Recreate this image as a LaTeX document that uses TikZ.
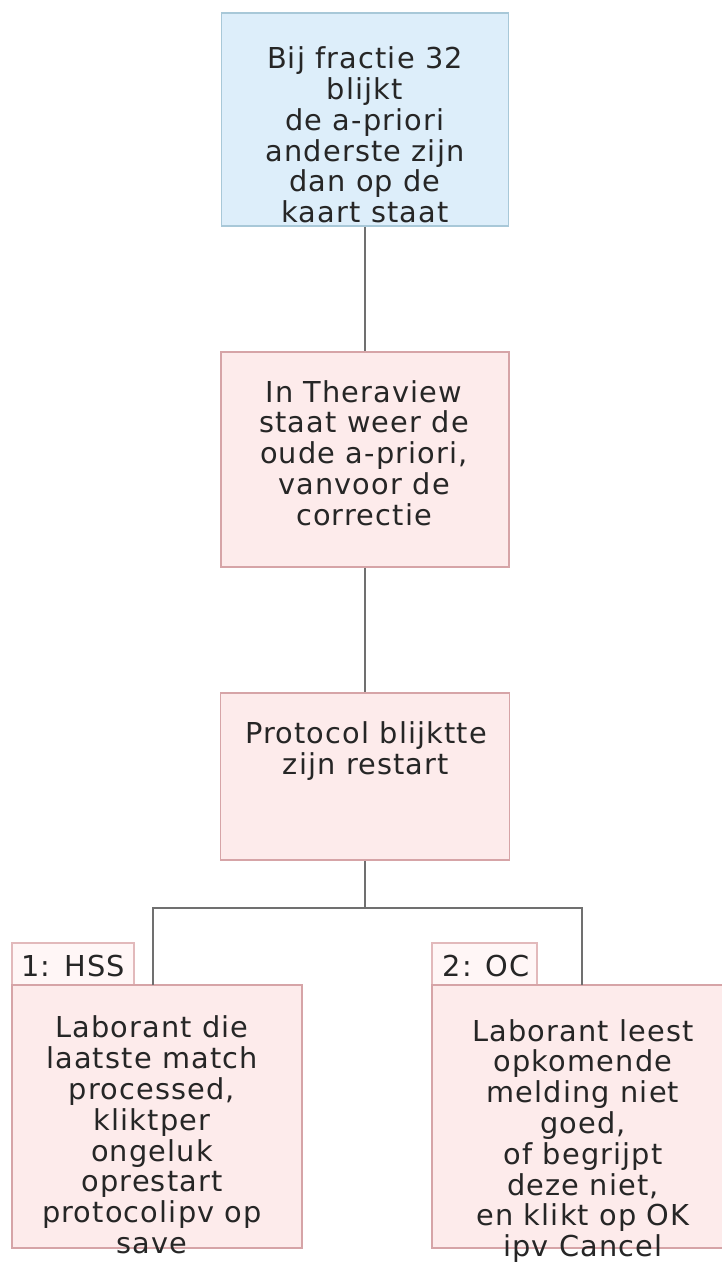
\documentclass[tikz,border=0pt]{standalone}
\usepackage{fontspec}
\setmainfont[LetterSpace=4]{DejaVu Sans}
\definecolor{bluefill}{HTML}{DDEEFA}
\definecolor{blueline}{HTML}{A8C8D8}
\definecolor{pinkfill}{HTML}{FDEBEB}
\definecolor{pinkline}{HTML}{D6A4A7}
\definecolor{tabfill}{HTML}{FFF6F6}
\definecolor{tabline}{HTML}{E2B9BB}
\definecolor{linkcol}{HTML}{707070}
\definecolor{txtcol}{HTML}{262626}
\tikzset{
  bluebox/.style={draw=blueline, fill=bluefill, line width=0.75pt, inner sep=0pt},
  pinkbox/.style={draw=pinkline, fill=pinkfill, line width=0.75pt, inner sep=0pt},
  tabbox/.style={draw=tabline, fill=tabfill, line width=0.75pt, inner sep=0pt},
  txt/.style={align=center, inner sep=0pt, text=txtcol, font=\fontsize{14.4pt}{15.4pt}\selectfont},
  link/.style={draw=linkcol, line width=1pt}
}
\begin{document}
\begin{tikzpicture}[x=0.5pt,y=-0.5pt]
\useasboundingbox (0,0) rectangle (722,1263);
\fill[white] (0,0) rectangle (722,1263);
% boxes
\node[bluebox, minimum width=143.5pt, minimum height=106.5pt] (top) at (365,119.5) {};
\node[pinkbox, minimum width=144pt, minimum height=107.5pt] (mid) at (365,459.5) {};
\node[pinkbox, minimum width=144.5pt, minimum height=83.5pt] (proto) at (365,776.5) {};
\node[tabbox, minimum width=61pt, minimum height=21pt] (ltab) at (73,964) {};
\node[tabbox, minimum width=52.5pt, minimum height=21pt] (rtab) at (484.5,964) {};
\node[pinkbox, minimum width=145pt, minimum height=131.5pt] (lbox) at (157,1116.5) {};
\node[pinkbox, minimum width=146.5pt, minimum height=131.5pt] (rbox) at (578.5,1116.5) {};
% connectors
\coordinate (split) at (365,908);
\coordinate (lend) at (153,985);
\coordinate (rend) at (582,985);
\draw[link] (top.south) -- (mid.north);
\draw[link] (mid.south) -- (proto.north);
\draw[link] (proto.south) -- (split);
\draw[link] (split) -| (lend);
\draw[link] (split) -| (rend);
% texts
\node[txt] (ttop) at (365,135) {Bij fractie 32\\blijkt\\de a-priori\\anderste zijn\\dan op de\\kaart staat};
\node[txt] (tmid) at (364,453) {In Theraview\\staat weer de\\oude a-priori,\\vanvoor de\\correctie};
\node[txt] (tproto) at (366,751) {Protocol blijktte\\zijn restart};
\node[txt] (tltab) at (73,966) {1: HSS};
\node[txt] (trtab) at (486,966) {2: OC};
\node[txt] (tlbox) at (152,1135) {Laborant die\\laatste match\\processed,\\kliktper\\ongeluk\\oprestart\\protocolipv op\\save};
\node[txt] (trbox) at (583,1141) {Laborant leest\\opkomende\\melding niet\\goed,\\of begrijpt\\deze niet,\\en klikt op OK\\ipv Cancel};
\end{tikzpicture}
\end{document}
